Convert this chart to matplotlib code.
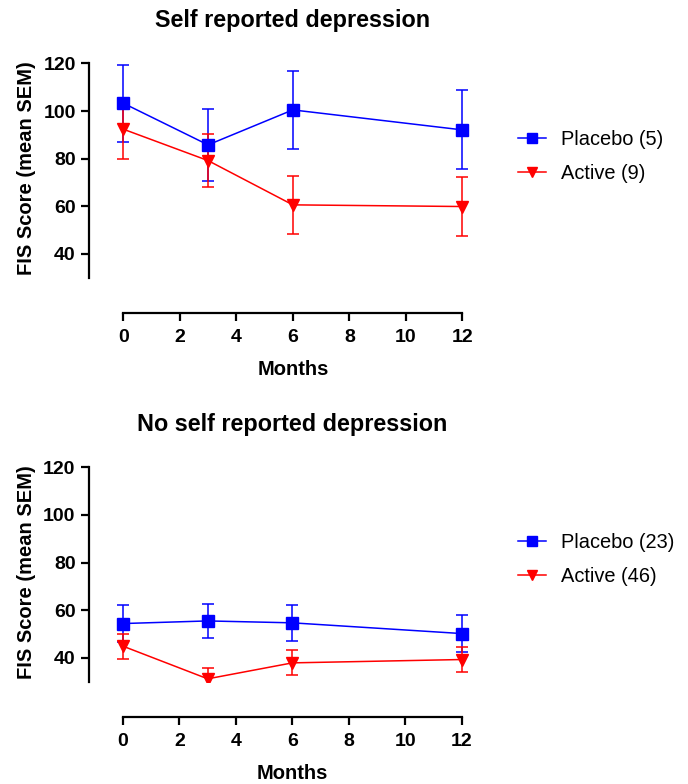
import matplotlib
matplotlib.use("Agg")
import matplotlib.pyplot as plt
from matplotlib.lines import Line2D

plt.rcParams['font.family'] = ['Liberation Sans', 'DejaVu Sans']

months = [0, 3, 6, 12]
x_ticks = [0, 2, 4, 6, 8, 10, 12]
y_ticks = [40, 60, 80, 100, 120]

# Panel 1: self reported depression
dep_placebo_mean = [103.3, 85.8, 100.5, 92.1]
dep_placebo_sem = [16.2, 15.0, 16.4, 16.6]
dep_active_mean = [92.4, 79.2, 60.6, 59.9]
dep_active_sem = [12.4, 11.2, 12.2, 12.4]

# Panel 2: no self reported depression
nodep_placebo_mean = [54.4, 55.5, 54.7, 50.2]
nodep_placebo_sem = [7.6, 7.0, 7.6, 7.7]
nodep_active_mean = [44.9, 31.2, 37.9, 39.3]
nodep_active_sem = [5.3, 4.6, 5.3, 5.4]

titles = ["Self reported depression", "No self reported depression"]
labels = [["Placebo (5)", "Active (9)"], ["Placebo (23)", "Active (46)"]]
panels = [
    (dep_placebo_mean, dep_placebo_sem, dep_active_mean, dep_active_sem),
    (nodep_placebo_mean, nodep_placebo_sem, nodep_active_mean, nodep_active_sem),
]

BLUE = '#0000FF'
RED = '#FF0000'

fig = plt.figure(figsize=(6.88, 7.84), dpi=100)
rects = [[0.1669, 0.6458, 0.5174, 0.2793], [0.1665, 0.1305, 0.5169, 0.2796]]
legend_y = [0.801, 0.2864]

for i, (pm, ps, am, asem) in enumerate(panels):
    ax = fig.add_axes(rects[i])
    ax.errorbar(months, pm, yerr=ps, color=BLUE, marker='s', markersize=8,
                lw=1.1, elinewidth=1.1, capsize=4, capthick=1.1)
    ax.errorbar(months, am, yerr=asem, color=RED, marker='v', markersize=8,
                lw=1.1, elinewidth=1.1, capsize=4, capthick=1.1)
    ax.set_xlim(-0.3, 12.3)
    ax.set_ylim(30, 122)
    ax.spines['top'].set_visible(False)
    ax.spines['right'].set_visible(False)
    ax.spines['left'].set_position(('outward', 18.6))
    ax.spines['bottom'].set_position(('outward', 25.2))
    ax.spines['left'].set_bounds(30, 120)
    ax.spines['bottom'].set_bounds(0, 12)
    for s in ['left', 'bottom']:
        ax.spines[s].set_linewidth(1.6)
    ax.set_xticks(x_ticks)
    ax.set_yticks(y_ticks)
    ax.tick_params(width=1.6, length=6, labelsize=14)
    ax.tick_params(axis='x', pad=6)
    for t in ax.get_xticklabels() + ax.get_yticklabels():
        t.set_fontweight('bold')
    ax.set_xlabel("Months", fontsize=14.5, fontweight='bold', labelpad=10)
    ax.set_ylabel("FIS Score (mean SEM)", fontsize=14.5, fontweight='bold', labelpad=5)
    ax.set_title(titles[i], fontsize=16.8, fontweight='bold', pad=23)
    handles = [
        Line2D([], [], color=BLUE, marker='s', markersize=7, lw=1.1, label=labels[i][0]),
        Line2D([], [], color=RED, marker='v', markersize=7, lw=1.1, label=labels[i][1]),
    ]
    fig.legend(handles=handles, loc='center left', bbox_to_anchor=(0.753, legend_y[i]),
               frameon=False, fontsize=14.4, labelspacing=0.75, handlelength=1.4,
               handletextpad=0.75, borderpad=0, borderaxespad=0)

fig.savefig("out.png", dpi=100)
